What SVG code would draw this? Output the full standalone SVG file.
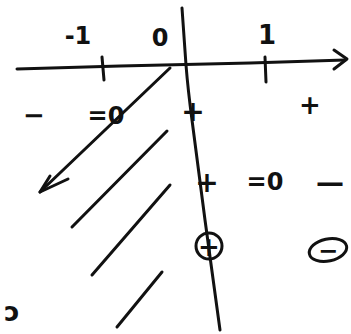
<svg xmlns="http://www.w3.org/2000/svg" width="351" height="334" viewBox="0 0 351 334">
<style>
.s{fill:none;stroke:#111;stroke-width:3;stroke-linecap:round;stroke-linejoin:round}
.t{font-family:"DejaVu Sans",sans-serif;fill:#111;text-anchor:middle;font-weight:bold}
</style>
<rect width="351" height="334" fill="#fff"/>
<g id="axes">
<path class="s" d="M17,69 L120,66 L250,63 L345,60"/>
<path class="s" d="M334,50 L347,59 L334,69"/>
<path class="s" d="M102,57 L104,80"/>
<path class="s" d="M265,57 L266,82"/>
<path class="s" d="M182,8 L186,65 Q188,90 192,120 L205,220 L220,330"/>
</g>
<g id="labels">
<text class="t" x="78" y="44" font-size="24">-1</text>
<text class="t" x="160" y="46" font-size="24">0</text>
<text class="t" x="267" y="44" font-size="26">1</text>
<text class="t" x="34" y="124" font-size="26">−</text>
<text class="t" x="106" y="124" font-size="24">=0</text>
<text class="t" x="193" y="121" font-size="28">+</text>
<text class="t" x="310" y="114" font-size="26">+</text>
<text class="t" x="207" y="192" font-size="28">+</text>
<text class="t" x="265" y="190" font-size="24">=0</text>
<text class="t" x="330" y="192" font-size="28">—</text>
<text class="t" x="12" y="321" font-size="26">ɔ</text>
</g>
<g id="connectors">
<path class="s" d="M170,68 L40,192"/>
<path class="s" d="M68,179 L40,192 L50,176"/>
<path class="s" d="M167,131 L72,227"/>
<path class="s" d="M170,185 L92,275"/>
<path class="s" d="M162,272 L117,327"/>
</g>
<g id="circled-plus">
<circle class="s" cx="209" cy="246" r="13"/>
<text class="t" x="209" y="256" font-size="26">+</text>
</g>
<g id="circled-minus">
<ellipse class="s" cx="328" cy="250" rx="19" ry="11" transform="rotate(-12 328 250)"/>
<text class="t" x="328" y="259" font-size="24">−</text>
</g>
</svg>
